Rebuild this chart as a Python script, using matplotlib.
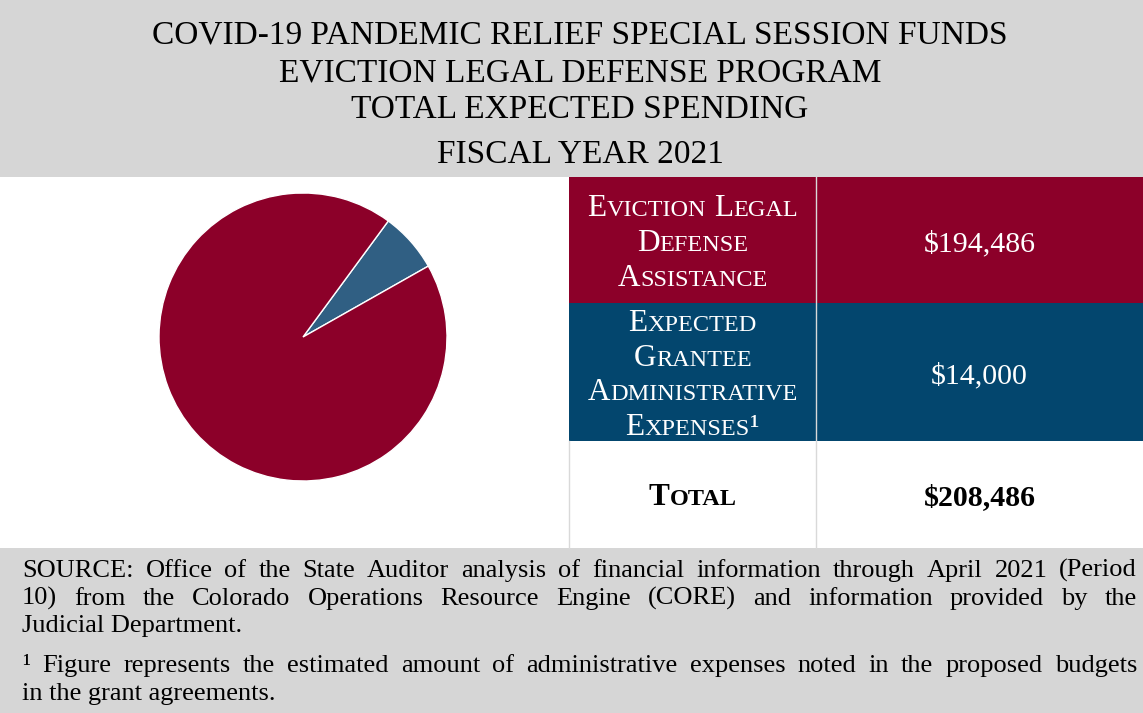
import matplotlib
matplotlib.use('Agg')
import matplotlib.pyplot as plt
from matplotlib.patches import Rectangle

plt.rcParams['font.family'] = ['Liberation Serif', 'DejaVu Serif']

title_lines = [
    "COVID-19 PANDEMIC RELIEF SPECIAL SESSION FUNDS",
    "EVICTION LEGAL DEFENSE PROGRAM",
    "TOTAL EXPECTED SPENDING",
    "FISCAL YEAR 2021",
]
category_lines = [
    ["Eviction Legal", "Defense", "Assistance"],
    ["Expected", "Grantee", "Administrative", "Expenses\u00b9"],
]
amounts = [194486, 14000]
total_label = "Total"

source_lines = [
    ("SOURCE: Office of the State Auditor analysis of financial information through April 2021 (Period", True),
    ("10) from the Colorado Operations Resource Engine (CORE) and information provided by the", True),
    ("Judicial Department.", False),
    ("\u00b9 Figure represents the estimated amount of administrative expenses noted in the proposed budgets", True),
    ("in the grant agreements.", False),
]

RED = '#8c0029'
NAVY = '#03466e'
PIE_BLUE = '#305f83'
GRAY = '#d6d6d6'

W, H = 1143, 713
fig = plt.figure(figsize=(W / 100, H / 100), dpi=100)
ax = fig.add_axes([0, 0, 1, 1])
ax.set_xlim(0, W)
ax.set_ylim(H, 0)
ax.axis('off')
renderer = fig.canvas.get_renderer()

PX = 100 / 72  # pixels per point


def text_width(s, size, weight='normal'):
    t = ax.text(0, 0, s, fontsize=size, fontweight=weight)
    w = t.get_window_extent(renderer).width
    t.remove()
    return w


def small_caps(x, y, s, big, small, color, weight='normal'):
    # split into runs of capitals and lowercase, lowercase drawn as smaller capitals
    runs = []
    for ch in s:
        if ch == ' ':
            runs.append((' ', None))
            continue
        low = ch.islower()
        if runs and runs[-1][1] == low:
            runs[-1] = (runs[-1][0] + ch, low)
        else:
            runs.append((ch, low))
    pieces = []
    for txt, low in runs:
        if low is None:
            pieces.append((None, big * 0.25 * PX, None))
        else:
            size = small if low else big
            pieces.append((txt.upper(), text_width(txt.upper(), size, weight), size))
    total = sum(p[1] for p in pieces)
    cx = x - total / 2
    for txt, w, size in pieces:
        if txt is not None:
            ax.text(cx, y, txt, fontsize=size, color=color, fontweight=weight,
                    va='baseline', ha='left')
        cx += w


def justified(x0, x1, y, s, size):
    words = s.split(' ')
    widths = [text_width(w, size) for w in words]
    gap = (x1 - x0 - sum(widths)) / (len(words) - 1)
    cx = x0
    for w, wd in zip(words, widths):
        ax.text(cx, y, w, fontsize=size, va='baseline', ha='left')
        cx += wd + gap


# title band
ax.add_patch(Rectangle((0, 0), W, 177, color=GRAY, lw=0))
for line, yb in zip(title_lines, [43, 81, 118, 163]):
    ax.text(580, yb, line, fontsize=24, ha='center', va='baseline')

# table rows
tx0, tx1, tdiv = 569, 1143, 816
row_edges = [177, 303, 441, 548]
for i, col in enumerate([RED, NAVY]):
    ax.add_patch(Rectangle((tx0, row_edges[i]), tx1 - tx0, row_edges[i + 1] - row_edges[i],
                           color=col, lw=0))
ax.plot([tdiv, tdiv], [177, 548], color='#d9d9d9', lw=1)
ax.plot([tx0, tx0], [441, 548], color='#d9d9d9', lw=1)

label_cx = (tx0 + tdiv) / 2
value_cx = (tdiv + tx1) / 2
line_gap = 34.5
for i, lines in enumerate(category_lines):
    mid = (row_edges[i] + row_edges[i + 1]) / 2
    first = mid - (len(lines) - 1) / 2 * line_gap + 11
    for j, line in enumerate(lines):
        small_caps(label_cx, first + j * line_gap, line, 22.5, 17.5, 'white')
    ax.text(value_cx, mid + 11, f"${amounts[i]:,.0f}", fontsize=21.5, color='white',
            ha='center', va='baseline')

total = sum(amounts)
small_caps(label_cx, 505, total_label, 22.5, 17.5, 'black', weight='bold')
ax.text(value_cx, 505, f"${total:,.0f}", fontsize=21.5, fontweight='bold',
        ha='center', va='baseline')

# source band
ax.add_patch(Rectangle((0, 548), W, H - 548, color=GRAY, lw=0))
for (line, just), yb in zip(source_lines, [577, 605, 632, 672, 700]):
    if just:
        justified(22, 1137, yb, line, 19)
    else:
        ax.text(22, yb, line, fontsize=19, va='baseline', ha='left')

# pie
cx, cy, r = 303, 337, 144
pax = fig.add_axes([(cx - r) / W, (H - cy - r) / H, 2 * r / W, 2 * r / H])
pax.pie(amounts[::-1], colors=[PIE_BLUE, RED], startangle=29.5, counterclock=True,
        wedgeprops=dict(edgecolor='white', linewidth=1))
pax.set_xlim(-1, 1)
pax.set_ylim(-1, 1)
pax.set_aspect('equal')
pax.axis('off')

fig.savefig('out.png', dpi=100)
